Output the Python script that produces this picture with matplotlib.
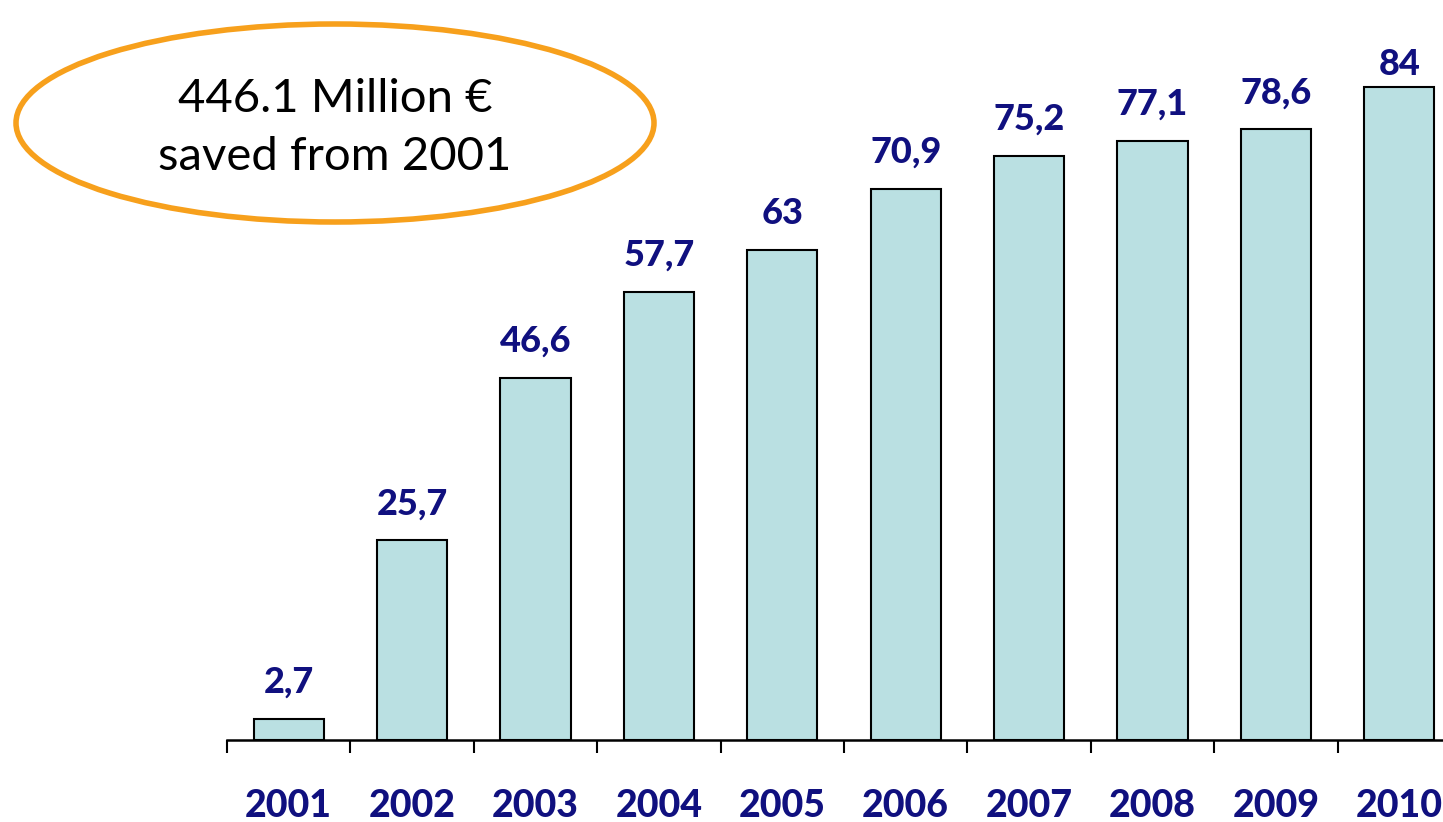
import matplotlib.pyplot as plt
from matplotlib.patches import Ellipse

years = ["2001", "2002", "2003", "2004", "2005", "2006", "2007", "2008", "2009", "2010"]
savings = [2.7, 25.7, 46.6, 57.7, 63, 70.9, 75.2, 77.1, 78.6, 84]
value_labels = ["2,7", "25,7", "46,6", "57,7", "63", "70,9", "75,2", "77,1", "78,6", "84"]

navy = "#10107f"
plt.rcParams['font.family'] = ['Lato', 'DejaVu Sans']

px_per_unit = 7.77
ytop = 740 / px_per_unit

fig = plt.figure(figsize=(14.43, 8.22), dpi=100)
ax = fig.add_axes([227 / 1443, 82 / 822, 1 - 227 / 1443, 740 / 822])

x = list(range(len(years)))
ax.bar(x, savings, width=0.57, color="#bae0e2", edgecolor="black", linewidth=1.5)

for xi, v, lab in zip(x, savings, value_labels):
    # labels near the top get pushed down (like excel does)
    gap = min(26, (ytop - v) * px_per_unit - 75)
    ax.annotate(lab, (xi, v), xytext=(0, gap * 0.72), textcoords="offset points",
                ha="center", va="baseline", fontsize=26, fontweight="black", color=navy)

# ticks between categories, labels centered under bars
ax.set_xticks([i - 0.5 for i in range(len(years) + 1)])
ax.set_xticklabels([])
ax.set_xticks(x, minor=True)
ax.set_xticklabels(years, minor=True, fontsize=27, fontweight="black", color=navy)
ax.tick_params(axis="x", which="major", length=9, width=1.5, direction="out")
ax.tick_params(axis="x", which="minor", length=0, pad=35)
ax.set_yticks([])

# limits after the ticks so they are not widened
ax.set_xlim(-0.5, -0.5 + (1443 - 227) / 123.4)
ax.set_ylim(0, ytop)

for s in ["left", "right", "top"]:
    ax.spines[s].set_visible(False)
ax.spines["bottom"].set_linewidth(1.8)

# orange ellipse with the total
ell = Ellipse((335 / 1443, 1 - 123 / 822), 638 / 1443, 198 / 822, transform=fig.transFigure,
              fill=False, edgecolor="#f7a01c", linewidth=4)
fig.add_artist(ell)
fig.text(335 / 1443, 1 - 128 / 822, "446.1 Million €\nsaved from 2001", ha="center", va="center",
         fontsize=34, color="black", linespacing=1.5)

fig.savefig("out.png", dpi=100)
